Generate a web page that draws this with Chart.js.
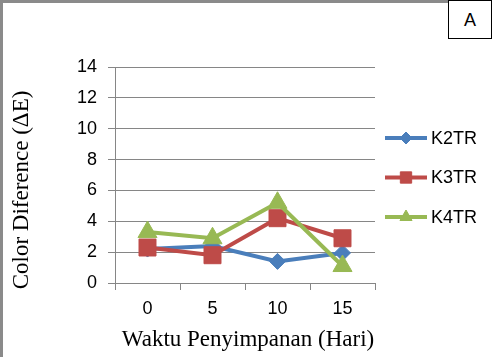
<!DOCTYPE html>
<html>
<head>
<meta charset="utf-8">
<script src="https://cdn.jsdelivr.net/npm/chart.js@4/dist/chart.umd.min.js"></script>
<style>
  html, body { margin: 0; padding: 0; background: #fff; }
  #wrap { position: relative; width: 492px; height: 357px; overflow: hidden; background: #fff; }
  #wrap canvas { position: absolute; left: 0; top: 0; }
  #frame { position: absolute; left: 0; top: 0; width: 492px; height: 357px; box-sizing: border-box;
           border-left: 3px solid #8a8a8a; border-top: 3px solid #8a8a8a; pointer-events: none; }
  #label { position: absolute; left: 448px; top: 0; width: 44px; height: 39px; box-sizing: border-box;
           border: 1px solid #000; background: #fff; font: 18px "Liberation Sans", Arial, sans-serif;
           text-align: center; line-height: 39px; color: #000; }
</style>
</head>
<body>
<div id="wrap">
  <canvas id="c" width="492" height="357"></canvas>
  <div id="frame"></div>
  <div id="label">A</div>
</div>
<script>
// ---- data ----
const categories = ['0', '5', '10', '15'];
const seriesNames = ['K2TR', 'K3TR', 'K4TR'];
const k2tr = [2.2, 2.4, 1.4, 1.95];
const k3tr = [2.3, 1.8, 4.2, 2.9];
const k4tr = [3.3, 2.9, 5.2, 1.1];
const yMin = 0, yMax = 14, yStep = 2;
const xTitle = 'Waktu Penyimpanan (Hari)';
const yTitle = 'Color Diference (\u0394E)';

// ---- styles ----
const colors = ['#4a7ebb', '#be4b48', '#98b954'];
const markers = ['rectRot', 'rect', 'triangle'];
const markerRadius = [8, 12, 11];
const legendMarkerRadius = [6, 8, 7];
const gridColor = '#868686';
const tickFont = { family: '"Liberation Sans", Arial, sans-serif', size: 18 };

const valuesList = [k2tr, k3tr, k4tr];
const datasets = seriesNames.map((name, i) => ({
  label: name,
  data: valuesList[i],
  borderColor: colors[i],
  backgroundColor: colors[i],
  borderWidth: 4,
  pointStyle: markers[i],
  pointRadius: markerRadius[i],
  pointHoverRadius: markerRadius[i],
  pointBorderWidth: 1,
  tension: 0,
  order: seriesNames.length - 1 - i
}));

const decorPlugin = {
  id: 'decor',
  afterDraw(chart) {
    const ctx = chart.ctx;
    ctx.save();
    ctx.fillStyle = '#000';
    ctx.font = '23px "Liberation Serif", "Times New Roman", serif';
    ctx.textAlign = 'center';
    ctx.textBaseline = 'middle';
    ctx.fillText(xTitle, 248, 340);
    ctx.translate(22, 190);
    ctx.rotate(-Math.PI / 2);
    ctx.font = '23px "Liberation Serif", "Times New Roman", serif';
    ctx.fillText(yTitle, 0, 0);
    ctx.restore();

    ctx.save();
    const lx = 385, ly0 = 138, dy = 39.5;
    chart.data.datasets.forEach((ds, i) => {
      const y = ly0 + i * dy;
      ctx.strokeStyle = ds.borderColor;
      ctx.lineWidth = 4;
      ctx.beginPath();
      ctx.moveTo(lx, y);
      ctx.lineTo(lx + 42, y);
      ctx.stroke();
      ctx.fillStyle = ds.backgroundColor;
      ctx.strokeStyle = ds.borderColor;
      ctx.lineWidth = 1;
      Chart.helpers.drawPoint(ctx, {
        pointStyle: ds.pointStyle,
        radius: legendMarkerRadius[i],
        borderWidth: 1,
        rotation: 0
      }, lx + 21, y);
      ctx.fillStyle = '#000';
      ctx.font = '18px "Liberation Sans", Arial, sans-serif';
      ctx.textAlign = 'left';
      ctx.textBaseline = 'middle';
      ctx.fillText(ds.label, lx + 46, y + 1);
    });
    ctx.restore();
  }
};

new Chart(document.getElementById('c'), {
  type: 'line',
  data: { labels: categories, datasets: datasets },
  options: {
    responsive: false,
    animation: false,
    devicePixelRatio: 1,
    layout: { padding: { left: 0, top: 67, right: 117, bottom: 0 } },
    plugins: { legend: { display: false }, tooltip: { enabled: false } },
    scales: {
      x: {
        type: 'category',
        offset: true,
        grid: { display: true, drawOnChartArea: false, drawTicks: true, offset: true, tickLength: 7, color: gridColor, lineWidth: 1 },
        border: { display: true, color: gridColor, width: 1 },
        ticks: { color: '#000', font: tickFont, padding: 8, maxRotation: 0 },
        afterFit(s) { s.height = 74; }
      },
      y: {
        min: yMin, max: yMax,
        grid: { display: true, drawOnChartArea: true, drawTicks: true, tickLength: 7, color: gridColor, lineWidth: 1 },
        border: { display: true, color: gridColor, width: 1 },
        ticks: { stepSize: yStep, color: '#000', font: tickFont, padding: 11 },
        afterFit(s) { s.width = 115; }
      }
    }
  },
  plugins: [decorPlugin]
});
</script>
</body>
</html>
